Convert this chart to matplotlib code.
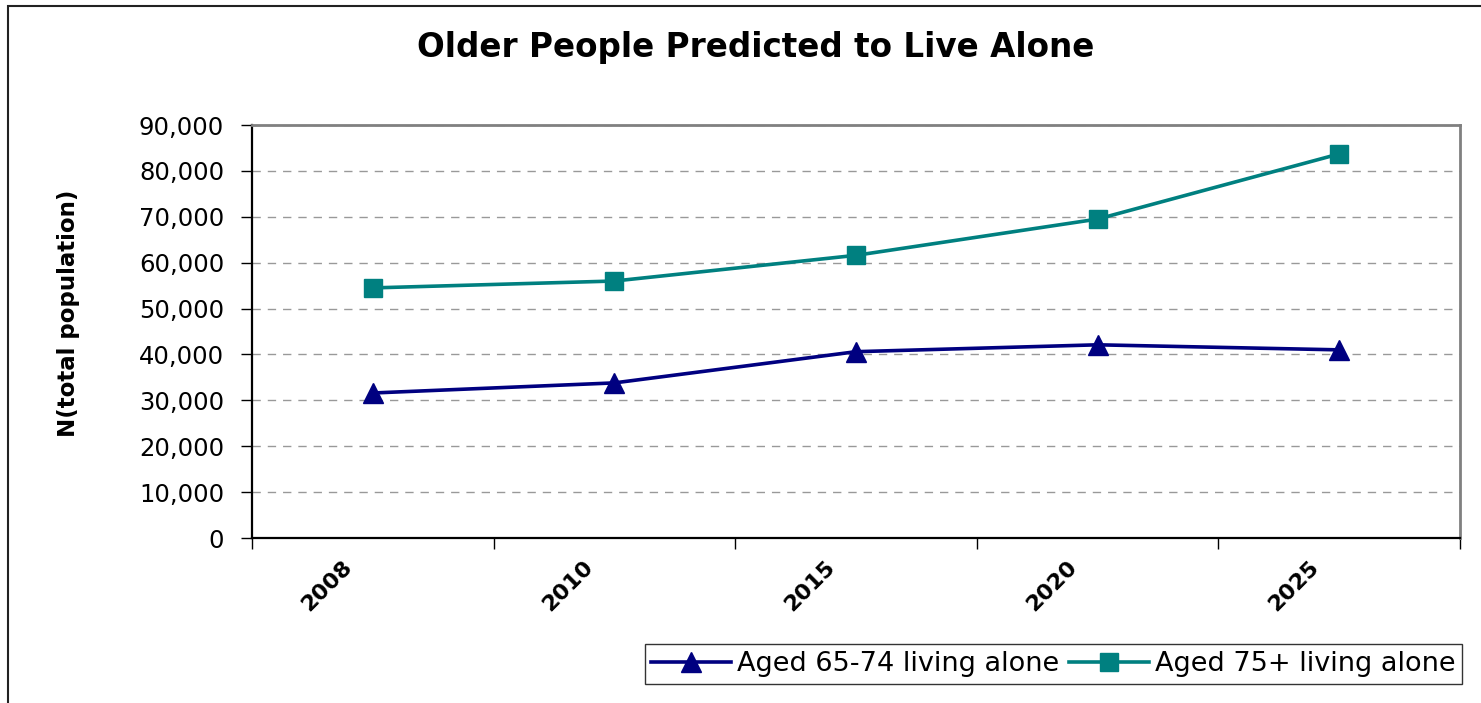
import matplotlib
matplotlib.use('Agg')
import matplotlib.pyplot as plt
from matplotlib.ticker import FuncFormatter, MultipleLocator
from matplotlib.transforms import ScaledTranslation
from matplotlib.patches import Rectangle

years = ['2008', '2010', '2015', '2020', '2025']
aged_65_74 = [31600, 33800, 40600, 42100, 41000]
aged_75_plus = [54500, 56000, 61600, 69500, 83700]

plt.rcParams['font.family'] = ['DejaVu Sans']

W, H = 1481, 703
fig = plt.figure(figsize=(W / 100, H / 100), dpi=100)
ax = fig.add_axes([252 / W, (H - 538) / H, (1460 - 252) / W, (538 - 125) / H])

x = [i + 0.5 for i in range(len(years))]
ax.plot(x, aged_65_74, color='#000080', lw=2.6, marker='^', ms=15,
        label='Aged 65-74 living alone', clip_on=False)
ax.plot(x, aged_75_plus, color='#008080', lw=2.6, marker='s', ms=13,
        label='Aged 75+ living alone', clip_on=False)

ax.set_xlim(0, len(years))
ax.set_ylim(0, 90000)
ax.yaxis.set_major_locator(MultipleLocator(10000))
ax.yaxis.set_major_formatter(FuncFormatter(lambda v, p: '0' if v == 0 else f'{int(v):,}'))
ax.set_xticks(range(len(years) + 1))
ax.set_xticklabels([])
ax.tick_params(axis='both', direction='out', length=8, width=1, colors='black')
ax.tick_params(axis='y', labelsize=17.5, pad=12)

ax.grid(axis='y', color='#999999', ls=(0, (6, 5)), lw=1)
ax.set_axisbelow(True)
for s in ['left', 'bottom']:
    ax.spines[s].set_color('black')
    ax.spines[s].set_linewidth(1.6)
for s in ['top', 'right']:
    ax.spines[s].set_color('#808080')
    ax.spines[s].set_linewidth(2)

# rotated category labels
off = ScaledTranslation(-24 / 100, -26 / 100, fig.dpi_scale_trans)
for xi, yr in zip(x, years):
    ax.text(xi, 0, yr, transform=ax.get_xaxis_transform() + off, rotation=45,
            ha='right', va='center', rotation_mode='anchor',
            fontsize=16, fontweight='bold')

fig.text(756 / W, 1 - 47 / H, 'Older People Predicted to Live Alone',
         ha='center', va='center', fontsize=23.5, fontweight='bold')
fig.text(68 / W, 1 - 313 / H, 'N(total population)', rotation=90,
         ha='center', va='center', fontsize=16.5, fontweight='bold')

leg = ax.legend(loc='center', bbox_to_anchor=((643 + 1464) / 2 / W, 1 - 664 / H),
                bbox_transform=fig.transFigure, ncol=2, frameon=True, fancybox=False,
                fontsize=19.5, handlelength=2.95, handletextpad=0.22, columnspacing=0.35,
                borderpad=0.25, borderaxespad=0, edgecolor='black')
leg.get_frame().set_linewidth(1)

# outer chart border
fig.add_artist(Rectangle((8 / W, -0.1), 1.1, 1 - 6 / H + 0.1, transform=fig.transFigure,
                         fill=False, ec='#222222', lw=1.5))

fig.savefig('out.png', dpi=100)
